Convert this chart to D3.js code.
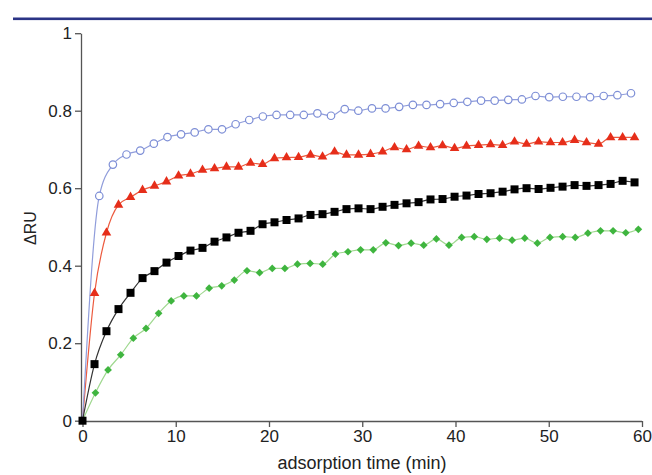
<!DOCTYPE html>
<html><head><meta charset="utf-8">
<script src="https://cdn.jsdelivr.net/npm/d3@7"></script>
<style>
html,body{margin:0;padding:0;background:#fff;}
svg{display:block;}
text{font-family:"Liberation Sans",Arial,sans-serif;fill:#222;}
</style></head>
<body>
<svg id="chart" width="652" height="475"></svg>
<script>
// ---- data ----
const timeRB = [0,1.29,2.57,3.86,5.15,6.44,7.72,9.01,10.30,11.58,12.87,14.16,15.44,16.73,18.02,19.31,20.59,21.88,23.17,24.45,25.74,27.03,28.31,29.60,30.89,32.18,33.46,34.75,36.04,37.32,38.61,39.90,41.18,42.47,43.76,45.05,46.33,47.62,48.91,50.19,51.48,52.77,54.05,55.34,56.63,57.92,59.20];
const redValues = [0,0.329,0.485,0.557,0.577,0.595,0.606,0.617,0.632,0.637,0.647,0.651,0.655,0.655,0.665,0.662,0.677,0.679,0.680,0.686,0.681,0.694,0.686,0.686,0.688,0.694,0.705,0.700,0.709,0.705,0.710,0.703,0.709,0.711,0.713,0.711,0.720,0.714,0.720,0.718,0.718,0.724,0.718,0.714,0.731,0.731,0.731];
const blackValues = [0,0.146,0.231,0.288,0.330,0.368,0.386,0.408,0.425,0.439,0.446,0.462,0.473,0.485,0.490,0.507,0.512,0.518,0.522,0.531,0.533,0.539,0.546,0.548,0.546,0.552,0.557,0.561,0.564,0.571,0.572,0.578,0.581,0.585,0.587,0.591,0.597,0.600,0.598,0.601,0.604,0.608,0.606,0.608,0.611,0.619,0.615];
const timeBlue = [0,1.80,3.26,4.72,6.19,7.65,9.11,10.57,12.03,13.50,14.96,16.42,17.88,19.34,20.81,22.27,23.73,25.19,26.65,28.12,29.58,31.04,32.50,33.96,35.43,36.89,38.35,39.81,41.27,42.74,44.20,45.66,47.12,48.58,50.05,51.51,52.97,54.43,55.89,57.36,58.82];
const blueValues = [0,0.580,0.661,0.687,0.697,0.715,0.732,0.739,0.744,0.752,0.752,0.765,0.776,0.785,0.789,0.789,0.789,0.793,0.787,0.804,0.800,0.806,0.806,0.810,0.815,0.815,0.817,0.820,0.823,0.826,0.826,0.828,0.829,0.838,0.835,0.836,0.836,0.835,0.838,0.840,0.845];
const timeGreen = [0,1.39,2.74,4.10,5.45,6.81,8.16,9.51,10.87,12.22,13.58,14.93,16.28,17.64,18.99,20.35,21.70,23.05,24.41,25.76,27.12,28.47,29.82,31.18,32.53,33.89,35.24,36.59,37.95,39.30,40.66,42.01,43.36,44.72,46.07,47.43,48.78,50.13,51.49,52.84,54.20,55.55,56.90,58.26,59.61];
const greenValues = [0,0.072,0.131,0.170,0.213,0.238,0.277,0.309,0.322,0.322,0.342,0.348,0.363,0.387,0.382,0.393,0.393,0.404,0.406,0.404,0.430,0.436,0.441,0.441,0.459,0.452,0.458,0.453,0.469,0.453,0.473,0.475,0.468,0.471,0.466,0.471,0.458,0.473,0.475,0.473,0.484,0.490,0.490,0.485,0.494];
const xTicks = [0,10,20,30,40,50,60];
const yTicks = [0,0.2,0.4,0.6,0.8,1];
const xLabel = "adsorption time (min)";
const yLabel = "ΔRU";

// ---- chart ----
const svg = d3.select("#chart");
const x = d3.scaleLinear().domain([0,60]).range([82.5,642]);
const y = d3.scaleLinear().domain([0,1]).range([420.7,33.2]);

// top rule
svg.append("rect").attr("x",13).attr("y",17.5).attr("width",639).attr("height",2.6).attr("fill","#2b3486");

const axisColor = "#555";
const yAxis = svg.append("g").attr("transform","translate(81,0)")
  .call(d3.axisLeft(y).tickValues(yTicks).tickSize(6).tickSizeOuter(0).tickPadding(3)
    .tickFormat(d => d===0 ? "0" : d===1 ? "1" : d3.format(".1f")(d)));
const xAxis = svg.append("g").attr("transform","translate(0,421)")
  .call(d3.axisBottom(x).tickValues(xTicks).tickSize(6).tickSizeOuter(0).tickPadding(3));
[yAxis,xAxis].forEach(g=>{
  g.select(".domain").attr("stroke",axisColor).attr("stroke-width",1.3);
  g.selectAll(".tick line").attr("stroke",axisColor).attr("stroke-width",1.3);
  g.selectAll(".tick text").attr("font-size",17).attr("fill","#222")
    .attr("font-family","'Liberation Sans',Arial,sans-serif");
});
xAxis.select(".domain").attr("d","M81,0.5H642");

svg.append("text").attr("x",362).attr("y",469).attr("text-anchor","middle")
  .attr("font-size",18).text(xLabel);
svg.append("text").attr("transform","translate(36,228) rotate(-90)").attr("text-anchor","middle")
  .attr("font-size",16).text(yLabel);

const series = [
  {t:timeGreen, v:greenValues, line:"#9fd88f", fill:"#3fb53f", stroke:"none", sym:d3.symbolDiamond2, size:38, sw:0, skip0:true},
  {t:timeRB, v:redValues, line:"#ec5a3e", fill:"#e62e1a", stroke:"none", sym:d3.symbolTriangle, size:40, sw:0, skip0:true},
  {t:timeBlue, v:blueValues, line:"#909ddb", fill:"#fff", stroke:"#7d8ed6", sym:d3.symbolCircle, size:44, sw:1.2, skip0:true},
  {t:timeRB, v:blackValues, line:"#333", fill:"#000", stroke:"none", sym:d3.symbolSquare, size:64, sw:0, skip0:false}
];
const line = d3.line().x(d=>x(d[0])).y(d=>y(d[1])).curve(d3.curveMonotoneX);
series.forEach(s=>{
  const pts = s.t.map((t,i)=>[t,s.v[i]]);
  svg.append("path").datum(pts).attr("d",line).attr("fill","none")
    .attr("stroke",s.line).attr("stroke-width",1.2);
});
series.forEach(s=>{
  const pts = s.t.map((t,i)=>[t,s.v[i]]).filter((d,i)=>!(s.skip0 && i===0));
  svg.append("g").selectAll("path").data(pts).join("path")
    .attr("transform",d=>`translate(${x(d[0])},${y(d[1])})`)
    .attr("d",d3.symbol().type(s.sym).size(s.size))
    .attr("fill",s.fill).attr("stroke",s.stroke).attr("stroke-width",s.sw);
});
</script>
</body></html>
